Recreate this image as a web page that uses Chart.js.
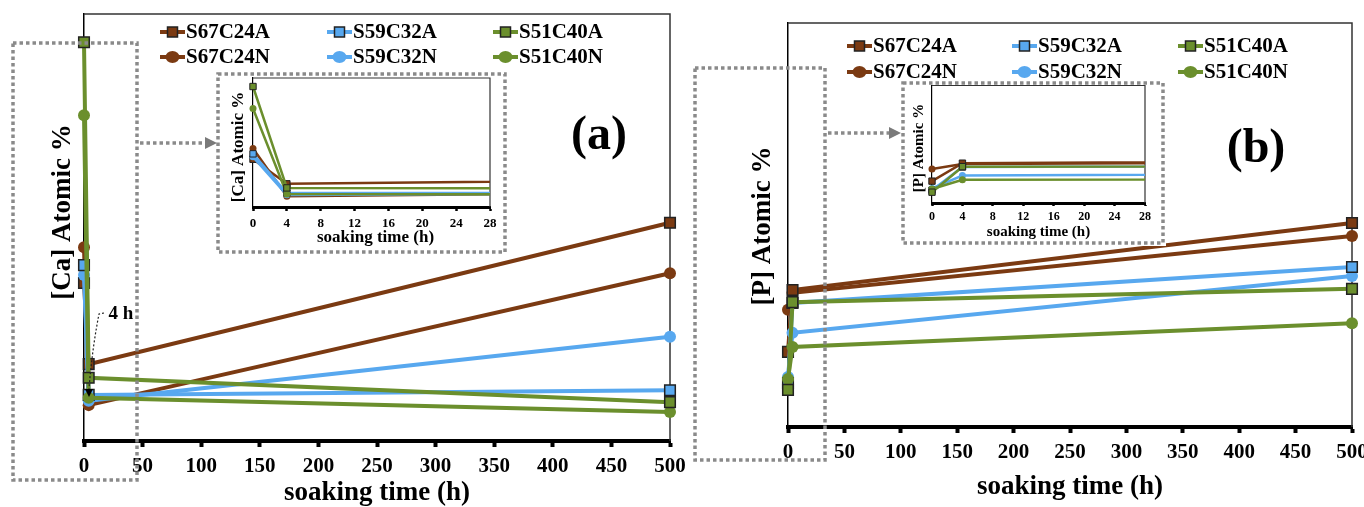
<!DOCTYPE html>
<html><head><meta charset="utf-8">
<script src="https://cdn.jsdelivr.net/npm/chart.js@4.4.1/dist/chart.umd.min.js"></script>
<style>
html,body{margin:0;padding:0;background:#fff;}
#wrap{position:relative;width:1364px;height:507px;overflow:hidden;background:#fff;}
canvas{position:absolute;}
</style></head><body>
<div id="wrap">
<canvas id="mainA" width="700" height="507" style="left:0;top:0;"></canvas>
<canvas id="mainB" width="682" height="507" style="left:682px;top:0;"></canvas>
<canvas id="insetA" width="292" height="185" style="left:216px;top:70px;background:#fff"></canvas>
<canvas id="insetB" width="266" height="166" style="left:900px;top:80px;background:#fff"></canvas>
<canvas id="deco" width="1364" height="507" style="left:0;top:0;"></canvas>
</div>
<script>
// ---------------- data ----------------
const hours = [0, 4, 500];
const seriesNames = ['S67C24A', 'S59C32A', 'S51C40A', 'S67C24N', 'S59C32N', 'S51C40N'];
const mainTickStep = 50;   // 0 ... 500
const insetTickStep = 4;   // 0 ... 28

// [Ca] atomic % (panel a)
const ca_S67C24A = [37.0, 18.0, 51.1];
const ca_S59C32A = [41.2, 10.8, 11.9];
const ca_S51C40A = [93.4, 14.8, 9.1];
const ca_S67C24N = [45.4, 8.4, 39.3];
const ca_S59C32N = [38.9, 9.4, 24.4];
const ca_S51C40N = [76.3, 10.1, 6.8];

// [P] atomic % (panel b)
const p_S67C24A = [18.6, 33.9, 50.5];
const p_S59C32A = [10.9, 30.7, 39.6];
const p_S51C40A = [9.2, 30.9, 34.2];
const p_S67C24N = [29.0, 33.2, 47.3];
const p_S59C32N = [12.4, 23.3, 37.4];
const p_S51C40N = [11.9, 19.8, 25.7];

const caValues = [ca_S67C24A, ca_S59C32A, ca_S51C40A, ca_S67C24N, ca_S59C32N, ca_S51C40N];
const pValues  = [p_S67C24A, p_S59C32A, p_S51C40A, p_S67C24N, p_S59C32N, p_S51C40N];

// ---------------- styling ----------------
const BROWN = '#7b3a12', BLUE = '#58a8ef', GREEN = '#6b8f2d';
const seriesColors = [BROWN, BLUE, GREEN, BROWN, BLUE, GREEN];
const seriesSquare = [true, true, true, false, false, false];
const seriesOrder = [2, 1, 0, 2, 1, 0];
const FONT = '"Liberation Serif", "Times New Roman", serif';

function buildDatasets(values, big) {
  return seriesNames.map((name, i) => ({
    label: name,
    data: hours.map((h, j) => ({ x: h, y: values[i][j] })),
    borderColor: seriesColors[i],
    backgroundColor: seriesColors[i],
    borderWidth: big ? 4 : 2.5,
    pointStyle: seriesSquare[i] ? 'rect' : 'circle',
    pointRadius: seriesSquare[i] ? (big ? 7.5 : 4.5) : (big ? 6 : 3.5),
    pointBorderWidth: seriesSquare[i] ? (big ? 1.5 : 1) : 0,
    pointBorderColor: seriesSquare[i] ? '#222' : seriesColors[i],
    pointBackgroundColor: seriesColors[i],
    tension: 0,
    order: seriesOrder[i],
    clip: big ? false : { left: 8, top: 8, right: 0, bottom: 8 }
  }));
}

function framePlugin(cfg) {
  return {
    id: 'frame_' + cfg.id,
    beforeDatasetsDraw(chart) {
      const { ctx, chartArea: a } = chart;
      ctx.save();
      ctx.strokeStyle = '#333';
      ctx.lineWidth = cfg.frameW;
      ctx.beginPath();
      ctx.moveTo(a.left, a.top);
      ctx.lineTo(a.right, a.top);
      ctx.lineTo(a.right, a.bottom);
      ctx.stroke();
      ctx.restore();
    },
    afterDraw(chart) {
      const { ctx, chartArea: a } = chart;
      ctx.save();
      ctx.fillStyle = '#000';
      ctx.textAlign = 'center';
      ctx.textBaseline = 'middle';
      ctx.font = 'bold ' + cfg.titleSize + 'px ' + FONT;
      ctx.fillText('soaking time (h)', (a.left + a.right) / 2 + (cfg.xTitleDx || 0), cfg.xTitleY);
      ctx.save();
      ctx.translate(cfg.yTitleX, cfg.yTitleY);
      ctx.rotate(-Math.PI / 2);
      ctx.fillText(cfg.yTitle, 0, 0);
      ctx.restore();
      if (cfg.tag) {
        ctx.font = 'bold ' + cfg.tagSize + 'px ' + FONT;
        ctx.fillText(cfg.tag, cfg.tagX, cfg.tagY);
      }
      if (cfg.legend) {
        const ds = chart.data.datasets;
        ctx.font = 'bold 21px ' + FONT;
        ctx.textAlign = 'left';
        for (let k = 0; k < ds.length; k++) {
          const row = Math.floor(k / 3), col = k % 3;
          const x0 = cfg.legendX[col], y = cfg.legendY[row];
          const d = ds[k];
          ctx.strokeStyle = d.borderColor;
          ctx.lineWidth = 4;
          ctx.beginPath(); ctx.moveTo(x0, y); ctx.lineTo(x0 + 25, y); ctx.stroke();
          const cx = x0 + 12.5;
          ctx.fillStyle = d.pointBackgroundColor;
          if (d.pointStyle === 'rect') {
            ctx.fillRect(cx - 5, y - 5, 10, 10);
            ctx.strokeStyle = '#222'; ctx.lineWidth = 1.5;
            ctx.strokeRect(cx - 5, y - 5, 10, 10);
          } else {
            ctx.beginPath(); ctx.ellipse(cx, y, 7, 6, 0, 0, Math.PI * 2); ctx.fill();
          }
          ctx.fillStyle = '#000';
          ctx.fillText(d.label, x0 + 26, y + 1);
        }
      }
      ctx.restore();
    }
  };
}

function makeChart(id, values, big, xmax, step, pad, axisCfg, cfg) {
  return new Chart(document.getElementById(id), {
    type: 'line',
    data: { datasets: buildDatasets(values, big) },
    options: {
      responsive: false,
      animation: false,
      events: [],
      layout: { padding: pad },
      plugins: { legend: { display: false }, tooltip: { enabled: false } },
      scales: {
        x: {
          type: 'linear', min: 0, max: xmax,
          afterFit(s) { s.height = axisCfg.axisH; s.paddingLeft = 0; s.paddingRight = 0; },
          ticks: {
            stepSize: step, color: '#000', autoSkip: false, maxRotation: 0,
            padding: axisCfg.tickPad,
            font: { family: FONT, weight: 'bold', size: axisCfg.tickSize }
          },
          grid: {
            display: true, drawOnChartArea: false, drawTicks: true,
            tickLength: axisCfg.tickLen, tickWidth: axisCfg.tickW, tickColor: '#000'
          },
          border: { display: true, color: '#000', width: axisCfg.axisW }
        },
        y: {
          type: 'linear', min: 0, max: 100,
          afterFit(s) { s.width = 0; s.paddingTop = 0; s.paddingBottom = 0; },
          ticks: { display: false },
          grid: { display: false, drawTicks: false },
          border: { display: true, color: '#000', width: axisCfg.yAxisW }
        }
      }
    },
    plugins: [framePlugin(cfg)]
  });
}

const mainAxis = { axisH: 45, tickSize: 21, tickPad: 7, tickLen: 6, tickW: 4, axisW: 4, yAxisW: 1.5 };
const insetAxis = { axisH: 28, tickSize: 13, tickPad: 5, tickLen: 4, tickW: 2.5, axisW: 3, yAxisW: 1.2 };
const insetAxisB = { axisH: 26, tickSize: 12, tickPad: 4, tickLen: 3, tickW: 2.5, axisW: 3, yAxisW: 1.2 };

makeChart('mainA', caValues, true, 500, mainTickStep,
  { left: 84, top: 14, right: 30, bottom: 21 }, mainAxis,
  { id: 'mA', frameW: 1.5, titleSize: 27, xTitleY: 493, yTitle: '[Ca] Atomic %', yTitleX: 63, yTitleY: 212,
    tag: '(a)', tagSize: 48, tagX: 599, tagY: 137,
    legend: true, legendX: [160, 327, 493], legendY: [32, 57] });

makeChart('mainB', pValues, true, 500, mainTickStep,
  { left: 106, top: 23, right: 12, bottom: 35 }, mainAxis,
  { id: 'mB', frameW: 1.5, titleSize: 27, xTitleY: 487, yTitle: '[P] Atomic %', yTitleX: 81, yTitleY: 226,
    tag: '(b)', tagSize: 48, tagX: 574, tagY: 150,
    legend: true, legendX: [165, 330, 496], legendY: [46, 72] });

makeChart('insetA', caValues, false, 28, insetTickStep,
  { left: 37, top: 8, right: 18, bottom: 20 }, insetAxis,
  { id: 'iA', frameW: 1.2, titleSize: 17, xTitleY: 168, xTitleDx: 4, yTitle: '[Ca] Atomic %', yTitleX: 23, yTitleY: 77 });

makeChart('insetB', pValues, false, 28, insetTickStep,
  { left: 32, top: 5, right: 21, bottom: 17 }, insetAxisB,
  { id: 'iB', frameW: 1.2, titleSize: 15, xTitleY: 152, yTitle: '[P] Atomic %', yTitleX: 19, yTitleY: 68 });

// ---------------- decorations (dotted zoom boxes, arrows, note) ----------------
(function () {
  const c = document.getElementById('deco').getContext('2d');
  function box(x1, y1, x2, y2) {
    c.save();
    c.strokeStyle = '#8a8a8a'; c.lineWidth = 3.5; c.setLineDash([3.5, 3]);
    c.strokeRect(x1, y1, x2 - x1, y2 - y1);
    c.restore();
  }
  function arrow(x1, x2, y) {
    c.save();
    c.strokeStyle = '#8a8a8a'; c.lineWidth = 3.5; c.setLineDash([3.5, 3]);
    c.beginPath(); c.moveTo(x1, y); c.lineTo(x2 - 10, y); c.stroke();
    c.setLineDash([]);
    c.fillStyle = '#7a7a7a';
    c.beginPath(); c.moveTo(x2 - 12, y - 6); c.lineTo(x2, y); c.lineTo(x2 - 12, y + 6); c.closePath(); c.fill();
    c.restore();
  }
  box(13, 43, 137, 480);
  box(218, 74, 505, 252);
  arrow(140, 217, 143);
  box(695, 68, 825, 460);
  box(903, 83, 1163, 243);
  arrow(828, 901, 133);

  // "4 h" note with dotted leader
  c.save();
  c.fillStyle = '#000';
  c.font = 'bold 19px ' + FONT;
  c.textAlign = 'center'; c.textBaseline = 'middle';
  c.fillText('4 h', 121, 314);
  c.strokeStyle = '#222'; c.lineWidth = 1.2; c.setLineDash([2, 2]);
  c.beginPath(); c.moveTo(104, 313); c.lineTo(99, 314); c.quadraticCurveTo(92, 350, 89, 389); c.stroke();
  c.setLineDash([]);
  c.beginPath(); c.moveTo(85, 389); c.lineTo(93, 389); c.lineTo(89, 397); c.closePath(); c.fill();
  c.restore();
})();
</script>
</body></html>
